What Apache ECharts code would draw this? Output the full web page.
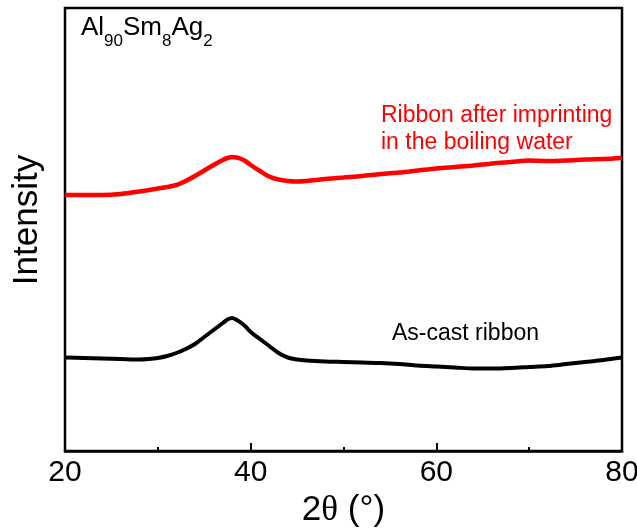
<!DOCTYPE html>
<html>
<head>
<meta charset="utf-8">
<script src="https://cdn.jsdelivr.net/npm/echarts@6/dist/echarts.min.js"></script>
<style>
  html, body { margin: 0; padding: 0; background: #fff; }
  #chart { width: 637px; height: 531px; }
</style>
</head>
<body>
<div id="chart"></div>
<script>
// XRD patterns of Al90Sm8Ag2 ribbons, 2θ in degrees vs intensity (a.u.)
const xTicks = [20, 40, 60, 80];

const asCastTheta = [20, 22, 24, 26, 28, 29, 30, 31, 32, 33, 34, 35, 36, 37, 37.5, 38, 38.5, 39, 39.5, 40,
  41, 42, 43, 44, 45, 46, 48, 50, 52, 54, 56, 58, 60, 62, 64, 66, 68, 70, 72, 74, 76, 78, 80];
const asCastIntensity = [93.5, 93, 92.5, 92, 91.5, 92, 93, 95, 98, 102, 107, 114, 121, 128, 131.5, 133, 131, 128, 124, 119,
  112, 105, 98, 93.5, 91.5, 90.5, 89.5, 89, 88.5, 88, 87, 85.5, 84.5, 83.5, 82.5, 82.5, 83, 84, 85, 87, 89, 91, 93.5];

const boiledTheta = [20, 22, 24, 26, 28, 30, 31, 32, 33, 34, 35, 36, 37, 37.5, 38, 38.5, 39, 39.5, 40,
  41, 42, 43, 44, 45, 46, 47, 48, 50, 52, 54, 56, 58, 60, 62, 64, 66, 68, 70, 72, 74, 76, 78, 80];
const boiledIntensity = [256, 256, 256, 257, 259.5, 262.5, 264, 266, 270, 275, 280.5, 286, 291, 293, 294, 293.5, 292, 289.5, 286,
  280, 274.5, 271.5, 270, 269.5, 270, 271, 272, 273.5, 275, 277, 278.5, 280.5, 282.5, 284, 285.5, 287.5, 289, 290.5, 290, 290.5, 291.5, 292, 293];

const pair = (xs, ys) => xs.map((x, i) => [x, ys[i]]);

const chart = echarts.init(document.getElementById('chart'), null, { renderer: 'canvas' });

const FONT = '"Liberation Sans", Arial, sans-serif';

chart.setOption({
  animation: false,
  backgroundColor: '#fff',
  grid: {
    left: 65, right: 15, top: 8, bottom: 80,
    outerBoundsMode: 'none',
    containLabel: false,
    show: true, borderColor: '#000', borderWidth: 2.5, backgroundColor: 'transparent'
  },
  xAxis: {
    type: 'value',
    min: xTicks[0], max: xTicks[xTicks.length - 1], interval: 20,
    axisLine: { show: true, lineStyle: { color: '#000', width: 2.5 } },
    axisTick: { show: true, inside: true, length: 8, lineStyle: { color: '#000', width: 2 } },
    minorTick: { show: true, splitNumber: 2, length: 4, lineStyle: { color: '#000', width: 2 } },
    splitLine: { show: false },
    axisLabel: { fontSize: 30, color: '#000', fontFamily: FONT, margin: 7 },
    name: '2{t|θ} (°)',
    nameLocation: 'middle',
    nameGap: 42,
    nameTextStyle: {
      fontSize: 35, color: '#000', fontFamily: FONT,
      rich: { t: { fontSize: 35, fontFamily: '"Liberation Serif", "DejaVu Serif", serif', color: '#000' } }
    }
  },
  yAxis: {
    type: 'value',
    min: 0, max: 443,
    axisLine: { show: false },
    axisTick: { show: false },
    axisLabel: { show: false },
    splitLine: { show: false }
  },
  series: [
    {
      name: 'As-cast ribbon',
      type: 'line',
      data: pair(asCastTheta, asCastIntensity),
      showSymbol: false,
      smooth: 0.3,
      lineStyle: { color: '#000', width: 4 }
    },
    {
      name: 'Ribbon after imprinting in the boiling water',
      type: 'line',
      data: pair(boiledTheta, boiledIntensity),
      showSymbol: false,
      smooth: 0.3,
      lineStyle: { color: '#ff0000', width: 4.5 }
    }
  ],
  graphic: [
    {
      type: 'text', left: 81, top: 15,
      style: {
        text: '{m|Al}{s|90}{m|Sm}{s|8}{m|Ag}{s|2}',
        fill: '#000',
        rich: {
          m: { fontSize: 26, lineHeight: 26, fontFamily: FONT, verticalAlign: 'top', fill: '#000' },
          s: { fontSize: 17, lineHeight: 17, fontFamily: FONT, verticalAlign: 'top', padding: [18, 0, 0, 0], fill: '#000' }
        }
      }
    },
    {
      type: 'text', x: 381, y: 102,
      style: {
        text: 'Ribbon after imprinting\nin the boiling water',
        fill: '#ff0000', fontSize: 23, lineHeight: 27, fontFamily: FONT,
        verticalAlign: 'top', align: 'left'
      }
    },
    {
      type: 'text', x: 392, y: 322,
      style: {
        text: 'As-cast ribbon',
        fill: '#000', fontSize: 23, lineHeight: 23, fontFamily: FONT,
        verticalAlign: 'top', align: 'left'
      }
    },
    {
      type: 'text', x: 27, y: 220, rotation: Math.PI / 2,
      style: {
        text: 'Intensity',
        fill: '#000', fontSize: 35, fontFamily: FONT,
        align: 'center', verticalAlign: 'middle'
      }
    }
  ]
});
</script>
</body>
</html>
